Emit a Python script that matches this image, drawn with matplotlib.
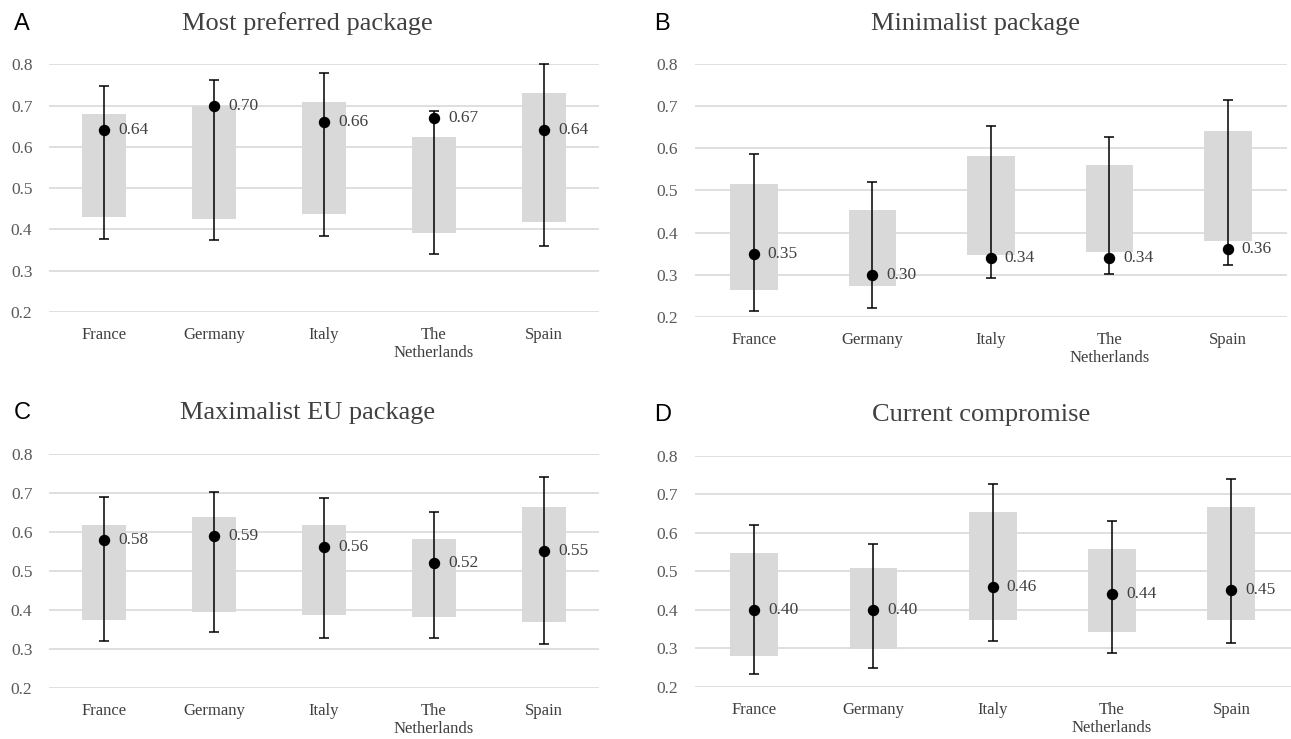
import matplotlib
matplotlib.use("Agg")
import matplotlib.pyplot as plt
import numpy as np

countries = ["France", "Germany", "Italy", "The\nNetherlands", "Spain"]
yticks = [0.2, 0.3, 0.4, 0.5, 0.6, 0.7, 0.8]

titles = ["Most preferred package", "Minimalist package", "Maximalist EU package", "Current compromise"]
letters = ["A", "B", "C", "D"]

# Panel A
a_point = [0.64, 0.70, 0.66, 0.67, 0.64]
a_bar_lo = [0.430, 0.424, 0.438, 0.390, 0.417]
a_bar_hi = [0.679, 0.700, 0.708, 0.624, 0.730]
a_err_lo = [0.376, 0.373, 0.384, 0.340, 0.359]
a_err_hi = [0.748, 0.762, 0.778, 0.686, 0.800]

# Panel B
b_point = [0.35, 0.30, 0.34, 0.34, 0.36]
b_bar_lo = [0.263, 0.273, 0.346, 0.354, 0.380]
b_bar_hi = [0.515, 0.453, 0.581, 0.561, 0.642]
b_err_lo = [0.214, 0.221, 0.291, 0.301, 0.322]
b_err_hi = [0.586, 0.520, 0.654, 0.627, 0.714]

# Panel C
c_point = [0.58, 0.59, 0.56, 0.52, 0.55]
c_bar_lo = [0.375, 0.394, 0.386, 0.381, 0.370]
c_bar_hi = [0.617, 0.637, 0.617, 0.582, 0.664]
c_err_lo = [0.321, 0.344, 0.329, 0.329, 0.313]
c_err_hi = [0.690, 0.702, 0.687, 0.652, 0.741]

# Panel D
d_point = [0.40, 0.40, 0.46, 0.44, 0.45]
d_bar_lo = [0.281, 0.299, 0.372, 0.341, 0.372]
d_bar_hi = [0.548, 0.508, 0.655, 0.559, 0.668]
d_err_lo = [0.232, 0.248, 0.319, 0.287, 0.314]
d_err_hi = [0.619, 0.571, 0.726, 0.630, 0.739]

panels = [
    (a_point, a_bar_lo, a_bar_hi, a_err_lo, a_err_hi),
    (b_point, b_bar_lo, b_bar_hi, b_err_lo, b_err_hi),
    (c_point, c_bar_lo, c_bar_hi, c_err_lo, c_err_hi),
    (d_point, d_bar_lo, d_bar_hi, d_err_lo, d_err_hi),
]

# axes rectangles [left, bottom, width, height] in figure fraction
rects = [
    [0.038, 0.578, 0.426, 0.335],
    [0.538, 0.5715, 0.459, 0.3415],
    [0.038, 0.069, 0.426, 0.317],
    [0.538, 0.0708, 0.462, 0.3125],
]
title_pos = [(0.238, 0.968), (0.756, 0.968), (0.238, 0.441), (0.760, 0.438)]

serif = ["Liberation Serif", "DejaVu Serif"]
fig = plt.figure(figsize=(12.91, 7.39), dpi=100)
fig.patch.set_facecolor("white")

for i, (pt, blo, bhi, elo, ehi) in enumerate(panels):
    ax = fig.add_axes(rects[i])
    x = np.arange(len(countries))
    pt = np.array(pt); blo = np.array(blo); bhi = np.array(bhi)
    elo = np.array(elo); ehi = np.array(ehi)
    ax.bar(x, bhi - blo, bottom=blo, width=0.4, color="#d9d9d9", zorder=2)
    ax.errorbar(x, pt, yerr=[pt - elo, ehi - pt], fmt="o", color="black",
                ms=7.2, elinewidth=1.1, capsize=3.5, capthick=1.1, zorder=3,
                clip_on=False)
    for xi, v in zip(x, pt):
        ax.annotate(f"{v:.2f}", (xi, v), xytext=(10, 0), textcoords="offset points",
                    ha="left", va="center", fontsize=12.5, color="#404040",
                    family=serif, zorder=4)
    ax.set_xlim(-0.5, len(countries) - 0.5)
    ax.set_ylim(0.2, 0.8)
    ax.set_yticks(yticks)
    ax.set_yticklabels([f"{t:.1f}" for t in yticks], family=serif, fontsize=12.5,
                       color="#595959")
    ax.set_xticks(x)
    ax.set_xticklabels(countries, family=serif, fontsize=12, color="#404040",
                       linespacing=1.15, va="top")
    ax.tick_params(axis="y", length=0, pad=12)
    ax.tick_params(axis="x", length=0, pad=11)
    for s in ax.spines.values():
        s.set_visible(False)
    ax.yaxis.grid(True, color="#d9d9d9", linewidth=1.2, zorder=0)
    ax.set_axisbelow(True)
    tx, ty = title_pos[i]
    fig.text(tx, ty, titles[i], ha="center", va="center", family=serif,
             fontsize=19, color="#404040")
    lx = 0.011 if i % 2 == 0 else 0.507
    fig.text(lx, ty, letters[i], ha="left", va="center",
             family=["Liberation Sans", "DejaVu Sans"], fontsize=17, color="black")

fig.savefig("out.png", dpi=100, facecolor="white")
